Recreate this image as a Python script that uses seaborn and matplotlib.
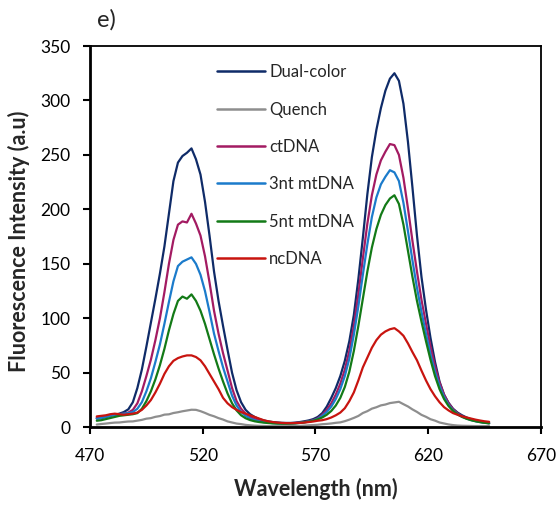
import matplotlib
matplotlib.use("Agg")
import matplotlib.pyplot as plt
import pandas as pd
import seaborn as sns

# Emission spectra sampled every 2 nm
wavelength = list(range(473, 648, 2))

dual_color = [
    8, 8.5, 9.5, 10.5, 11.5, 12.5, 14, 16.5, 23, 36,
    53, 74, 96, 118, 141, 166, 196, 226, 243, 249,
    252, 256, 246, 232, 207, 176, 143, 116, 93, 71,
    50, 34, 23, 16, 12, 9.5, 7.5, 6.3, 5.4, 4.8,
    4.4, 4.1, 4, 4, 4.3, 4.8, 5.5, 6.3, 7.5, 9.5,
    13, 19, 27, 36, 47, 61, 79, 103, 136, 174,
    214, 248, 273, 293, 309, 320, 325, 318, 297, 262,
    220, 176, 138, 108, 82, 60, 42, 30, 22.5, 17,
    13.5, 11, 9, 7.3, 6.1, 5.2, 4.5, 4,
]
quench = [
    2.5, 3, 3.4, 3.9, 4.3, 4.4, 4.9, 5.3, 5.4, 6.1,
    6.8, 7.9, 8.4, 9.6, 10.3, 11.6, 11.9, 13.1, 13.8, 14.7,
    15.4, 16.1, 16, 14.8, 13.2, 11.4, 10.1, 8.4, 7.1, 5.4,
    4.4, 3.4, 2.9, 2.2, 1.8, 1.5, 1.3, 1.2, 1.1, 1,
    1, 1, 1, 1.1, 1.2, 1.3, 1.5, 1.8, 2, 2.3,
    2.8, 3.1, 3.5, 4.1, 4.5, 5.6, 7, 8.6, 10.4, 13.1,
    14.8, 17.1, 18.4, 20.1, 20.9, 22.2, 22.8, 23.4, 21.2, 19.1,
    16.4, 14.1, 11.4, 9.6, 7.4, 6.1, 4.4, 3.5, 2.6, 2,
    1.6, 1.4, 1.3, 1.2, 1.1, 1.1, 1.1, 1.1,
]
ct_dna = [
    9, 9.5, 10, 11, 11.5, 12, 12.5, 13.5, 16, 22,
    33, 47, 62, 80, 100, 124, 150, 172, 186, 189,
    188, 196, 187, 176, 157, 133, 107, 86, 68, 52,
    36, 24, 17, 12.5, 9.5, 7.5, 6.2, 5.3, 4.7, 4.3,
    4, 3.8, 3.7, 3.7, 3.9, 4.3, 4.9, 5.6, 6.6, 8.2,
    11.5, 16, 22, 30, 40, 53, 70, 93, 122, 155,
    187, 213, 232, 245, 253, 260, 259, 250, 229, 201,
    171, 143, 117, 95, 74, 56, 41, 30, 22, 16.5,
    12.8, 10.2, 8.3, 6.9, 5.8, 5, 4.3, 3.8,
]
mt_dna_3nt = [
    8, 8.5, 9.5, 10.5, 11.5, 12, 12.5, 13, 14, 17,
    23, 33, 45, 60, 76, 95, 115, 134, 148, 152,
    154, 156, 150, 140, 125, 106, 86, 70, 55, 42,
    29, 20, 14, 10.5, 8, 6.5, 5.4, 4.7, 4.2, 3.8,
    3.6, 3.5, 3.4, 3.5, 3.7, 4.1, 4.6, 5.3, 6.2, 7.8,
    10.5, 14, 19, 26, 35, 47, 63, 85, 111, 140,
    168, 193, 211, 223, 230, 236, 234, 226, 206, 180,
    153, 128, 106, 86, 67, 51, 38, 28, 20.5, 15.5,
    12, 9.7, 8, 6.6, 5.6, 4.8, 4.2, 3.7,
]
mt_dna_5nt = [
    6, 6.5, 7.5, 8.5, 9.5, 10.5, 11, 11.5, 12, 13,
    17, 24, 33, 44, 57, 72, 89, 104, 116, 120,
    118, 122, 116, 107, 95, 81, 67, 54, 42, 31,
    22, 15.5, 11, 8.3, 6.6, 5.5, 4.8, 4.3, 3.9, 3.6,
    3.4, 3.3, 3.3, 3.4, 3.6, 4, 4.5, 5.2, 6, 7.3,
    9, 11.5, 15, 20, 27, 37, 51, 70, 93, 118,
    143, 165, 182, 195, 204, 210, 213, 205, 186, 162,
    138, 116, 97, 79, 62, 47, 35, 26, 19.5, 15,
    11.8, 9.5, 7.8, 6.5, 5.5, 4.7, 4.1, 3.6,
]
nc_dna = [
    10, 10.5, 11, 12, 12.5, 12, 11.5, 12, 12.5, 13.5,
    16, 20, 25, 32, 40, 49, 56, 61, 63.5, 65,
    66, 66, 64.5, 61.5, 56, 49, 42, 35, 27, 22,
    18.5, 16, 14, 12.5, 11, 9.5, 8, 6.5, 5.5, 4.8,
    4.3, 4, 3.8, 3.8, 3.9, 4, 4.3, 4.8, 5.3, 6,
    6.5, 7.5, 9, 11, 13.5, 17.5, 24, 32, 43, 55,
    64, 73, 80, 85, 88, 90, 91, 88, 84, 77,
    69, 61.5, 52, 43, 35, 28.5, 23, 18.5, 15.5, 13,
    11.5, 10, 9, 8, 7, 6.2, 5.5, 5,
]

samples = ["Dual-color", "Quench", "ctDNA", "3nt mtDNA", "5nt mtDNA", "ncDNA"]
colors = ["#0f2b68", "#8e8e8e", "#a31b62", "#1b7bcb", "#137a17", "#c8140f"]
x_ticks = [470, 520, 570, 620, 670]
y_ticks = [0, 50, 100, 150, 200, 250, 300, 350]

series = [dual_color, quench, ct_dna, mt_dna_3nt, mt_dna_5nt, nc_dna]
df = pd.concat(
    [pd.DataFrame({"Wavelength": wavelength, "Intensity": vals, "Sample": name})
     for name, vals in zip(samples, series)],
    ignore_index=True,
)

sns.set_theme(style="ticks")
plt.rcParams["font.family"] = ["Lato", "DejaVu Sans"]

fig = plt.figure(figsize=(5.59, 5.05), dpi=100)
ax = fig.add_axes([0.161, 0.1539, 0.8068, 0.755])

sns.lineplot(
    data=df, x="Wavelength", y="Intensity", hue="Sample",
    hue_order=samples, palette=colors, linewidth=1.6,
    estimator=None, sort=False, ax=ax,
)

ax.set_xlim(470, 670)
ax.set_ylim(0, 350)
ax.set_xticks(x_ticks)
ax.set_yticks(y_ticks)

for side in ["left", "bottom"]:
    ax.spines[side].set_linewidth(2.0)
for side in ["top", "right"]:
    ax.spines[side].set_linewidth(1.3)
for sp in ax.spines.values():
    sp.set_color("black")

ax.tick_params(axis="both", direction="out", length=5, width=1.5,
               colors="black", labelsize=12.5)
ax.tick_params(axis="y", pad=9)
ax.tick_params(axis="x", pad=10)

ax.set_xlabel("Wavelength (nm)", fontsize=15.5, fontweight="bold")
ax.set_ylabel("Fluorescence Intensity (a.u)", fontsize=15.5, fontweight="bold")
ax.xaxis.set_label_coords(0.5, -0.133)
ax.yaxis.set_label_coords(-0.133, 0.487)

handles, labels = ax.get_legend_handles_labels()
ax.get_legend().remove()
leg = ax.legend(
    handles, labels, loc="upper left", bbox_to_anchor=(0.2816, 0.952),
    frameon=False, fontsize=12, handlelength=2.9, handletextpad=0.22,
    labelspacing=1.28, borderpad=0, borderaxespad=0,
)
for line in leg.get_lines():
    line.set_linewidth(1.8)

fig.text(97 / 559, 1 - 20 / 505, "e)", fontsize=17, ha="left", va="center")

fig.savefig("out.png", dpi=100)
